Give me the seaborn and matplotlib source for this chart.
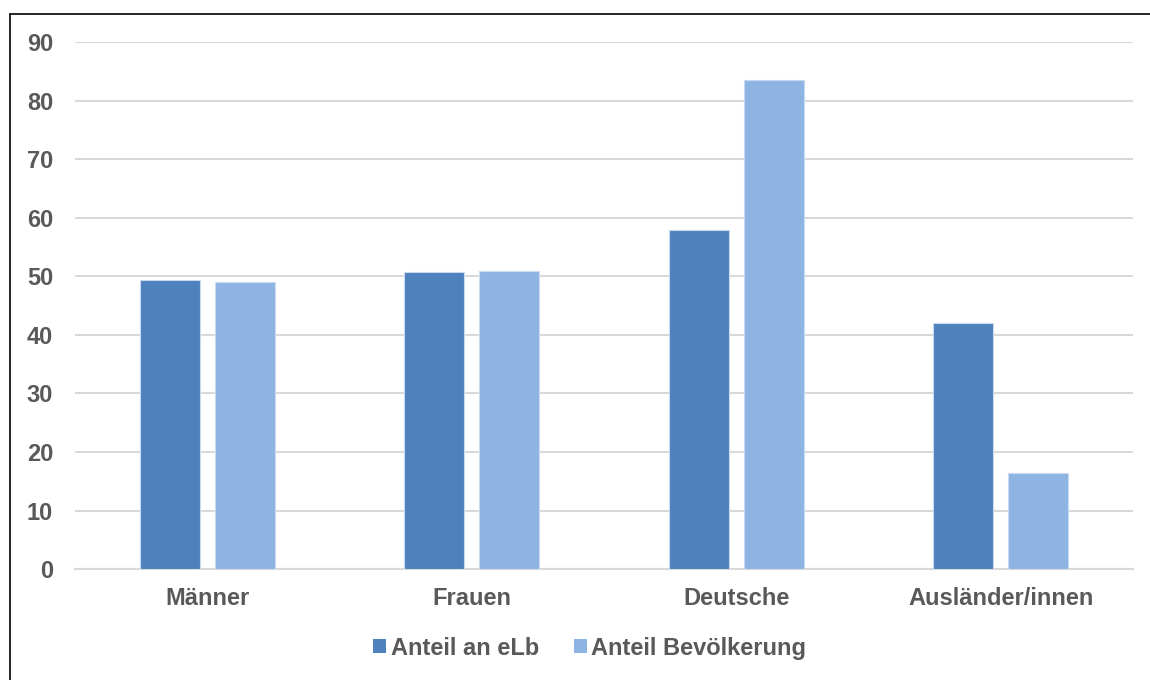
import matplotlib
matplotlib.use("Agg")
import matplotlib.pyplot as plt
from matplotlib.lines import Line2D
import seaborn as sns
import pandas as pd

categories = ["Männer", "Frauen", "Deutsche", "Ausländer/innen"]
series_names = ["Anteil an eLb", "Anteil Bevölkerung"]
anteil_elb = [49.3, 50.7, 57.9, 42.1]
anteil_bev = [49.0, 51.0, 83.5, 16.5]
y_ticks = [0, 10, 20, 30, 40, 50, 60, 70, 80, 90]

df = pd.DataFrame({
    "Gruppe": categories * 2,
    "Serie": [series_names[0]] * len(categories) + [series_names[1]] * len(categories),
    "Wert": anteil_elb + anteil_bev,
})

sns.set_style("white")
plt.rcParams["font.family"] = ["Liberation Sans", "DejaVu Sans"]
text_color = "#595959"

fig = plt.figure(figsize=(11.5, 6.8), dpi=100)
ax = fig.add_axes([0.0652, 0.163, 0.9200, 0.775])

palette = {series_names[0]: "#4F81BD", series_names[1]: "#8EB4E3"}
sns.barplot(data=df, x="Gruppe", y="Wert", hue="Serie", order=categories,
            hue_order=series_names, palette=palette, width=0.567, gap=0.2,
            saturation=1, edgecolor="#C9DAF0", linewidth=0.8, ax=ax, zorder=3)

ax.set_ylim(0, 90)
ax.set_xlim(-0.5, len(categories) - 0.5)
ax.set_yticks(y_ticks)
ax.set_yticklabels([str(t) for t in y_ticks])
ax.grid(axis="y", color="#D9D9D9", linewidth=1.5, zorder=0)
ax.grid(axis="x", visible=False)
ax.set_xlabel("")
ax.set_ylabel("")
for side in ["top", "right", "left"]:
    ax.spines[side].set_visible(False)
ax.spines["bottom"].set_color("#D9D9D9")
ax.spines["bottom"].set_linewidth(1.5)
ax.tick_params(axis="y", length=0, pad=15.8, labelsize=17, labelcolor=text_color)
ax.tick_params(axis="x", length=0, pad=13, labelsize=17, labelcolor=text_color)
for lbl in ax.get_xticklabels() + ax.get_yticklabels():
    lbl.set_fontweight("bold")

handles, labels = ax.get_legend_handles_labels()
ax.legend_.remove() if ax.legend_ else None
leg = fig.legend(handles, labels, loc="center", bbox_to_anchor=(0.513, 0.047),
                 ncol=2, frameon=False, handlelength=0.55, handleheight=0.55,
                 handletextpad=0.2, columnspacing=1.45,
                 prop={"weight": "bold", "size": 17})
for t in leg.get_texts():
    t.set_color(text_color)
for h in leg.legend_handles:
    h.set_edgecolor("none")

# outer frame (left and top edges)
fig.add_artist(Line2D([10 / 1150, 10 / 1150], [0, 1 - 14 / 680],
                      transform=fig.transFigure, color="black", linewidth=1.2))
fig.add_artist(Line2D([10 / 1150, 1], [1 - 14 / 680, 1 - 14 / 680],
                      transform=fig.transFigure, color="black", linewidth=1.2))

fig.savefig("out.png", dpi=100)
